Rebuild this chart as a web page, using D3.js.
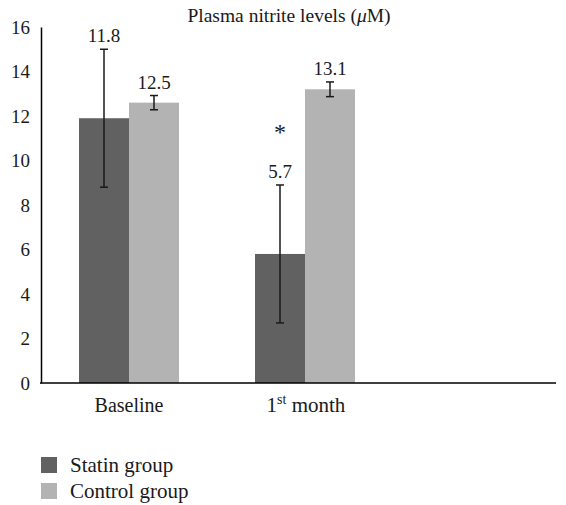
<!DOCTYPE html>
<html><head><meta charset="utf-8">
<script src="https://cdn.jsdelivr.net/npm/d3@7"></script>
<style>body{margin:0;background:#fff}svg{display:block}</style>
</head><body><svg id="c" width="566" height="505" style="font-family:'Liberation Serif','DejaVu Serif',serif"></svg>
<script>
const categories = ["Baseline", "1st month"];
const seriesNames = ["Statin group", "Control group"];
const statinMeans = [11.9, 5.8];
const controlMeans = [12.6, 13.2];
const statinErr = [3.1, 3.1];
const controlErr = [0.32, 0.33];
const statinLabels = ["11.8", "5.7"];
const controlLabels = ["12.5", "13.1"];
const yTicks = [0, 2, 4, 6, 8, 10, 12, 14, 16];
const colors = ["#616161", "#b3b3b3"];
const FONT = "'Liberation Serif','DejaVu Serif',serif";

const svg = d3.select("#c");
const y = d3.scaleLinear().domain([0, 16]).range([383, 27]);
const x0 = d3.scaleBand().domain(categories).range([41, 393]).paddingInner(0).paddingOuter(0);
const x1 = d3.scaleBand().domain(seriesNames).range([38, 138]);

const data = categories.map((c, i) => ({
  cat: c,
  vals: [
    {s: seriesNames[0], v: statinMeans[i], e: statinErr[i], lab: statinLabels[i]},
    {s: seriesNames[1], v: controlMeans[i], e: controlErr[i], lab: controlLabels[i]}
  ]
}));

// y axis
const yAxis = d3.axisLeft(y).tickValues(yTicks).tickSize(0).tickPadding(11).tickFormat(d3.format("d"));
const gy = svg.append("g").attr("transform", "translate(41,0)").call(yAxis);
gy.attr("font-family", FONT).attr("font-size", 19);
gy.select(".domain").attr("stroke", "#000").attr("stroke-width", 1.5);
gy.selectAll("text").attr("fill", "#1a1a1a");

// bars
const g = svg.selectAll("g.cat").data(data).enter().append("g").attr("class", "cat")
  .attr("transform", d => `translate(${x0(d.cat)},0)`);
g.selectAll("rect").data(d => d.vals).enter().append("rect")
  .attr("x", d => x1(d.s)).attr("width", x1.bandwidth())
  .attr("y", d => y(d.v)).attr("height", d => y(0) - y(d.v))
  .attr("fill", (d, i) => colors[i]);

// error bars
const eb = g.selectAll("g.eb").data(d => d.vals).enter().append("g").attr("class", "eb")
  .attr("stroke", "#1a1a1a").attr("stroke-width", 1.5);
const mid = d => x1(d.s) + x1.bandwidth() / 2;
eb.append("line").attr("x1", mid).attr("x2", mid)
  .attr("y1", d => y(d.v + d.e)).attr("y2", d => y(d.v - d.e));
eb.append("line").attr("x1", d => mid(d) - 4).attr("x2", d => mid(d) + 4)
  .attr("y1", d => y(d.v + d.e)).attr("y2", d => y(d.v + d.e));
eb.append("line").attr("x1", d => mid(d) - 4).attr("x2", d => mid(d) + 4)
  .attr("y1", d => y(d.v - d.e)).attr("y2", d => y(d.v - d.e));

// value labels
g.selectAll("text.lab").data(d => d.vals).enter().append("text").attr("class", "lab")
  .attr("x", mid).attr("y", d => y(d.v + d.e) - 7)
  .attr("text-anchor", "middle").attr("font-family", FONT).attr("font-size", 19).attr("fill", "#1a1a1a")
  .text(d => d.lab);

// asterisk on 1st month statin
svg.append("text").attr("x", x0(categories[1]) + mid(data[1].vals[0]))
  .attr("y", y(statinMeans[1] + statinErr[1]) - 45).attr("text-anchor", "middle")
  .attr("font-family", FONT).attr("font-size", 24).attr("fill", "#1a1a1a").text("*");

// x axis line
svg.append("line").attr("x1", 40).attr("x2", 556).attr("y1", y(0)).attr("y2", y(0))
  .attr("stroke", "#000").attr("stroke-width", 1.5);

// category labels
const cx = c => x0(c) + x0.bandwidth() / 2;
svg.append("text").attr("x", cx(categories[0])).attr("y", 412).attr("text-anchor", "middle")
  .attr("font-family", FONT).attr("font-size", 20).attr("fill", "#1a1a1a").text(categories[0]);
const t2 = svg.append("text").attr("x", cx(categories[1]) + 1).attr("y", 412).attr("text-anchor", "middle")
  .attr("font-family", FONT).attr("font-size", 21).attr("fill", "#1a1a1a");
t2.append("tspan").text("1");
t2.append("tspan").attr("dy", -8).attr("font-size", 14).text("st");
t2.append("tspan").attr("dy", 8).text(" month");

// title
const tt = svg.append("text").attr("x", 289).attr("y", 22).attr("text-anchor", "middle")
  .attr("font-family", FONT).attr("font-size", 19.5).attr("fill", "#1a1a1a");
tt.append("tspan").text("Plasma nitrite levels (");
tt.append("tspan").attr("font-style", "italic").text("μ");
tt.append("tspan").text("M)");

// legend
const lg = svg.selectAll("g.lg").data(seriesNames).enter().append("g").attr("class", "lg")
  .attr("transform", (d, i) => `translate(41,${457 + i * 26})`);
lg.append("rect").attr("width", 16).attr("height", 16).attr("fill", (d, i) => colors[i]);
lg.append("text").attr("x", 29).attr("y", 15).attr("font-family", FONT).attr("font-size", 21)
  .attr("fill", "#1a1a1a").text(d => d);
</script></body></html>
